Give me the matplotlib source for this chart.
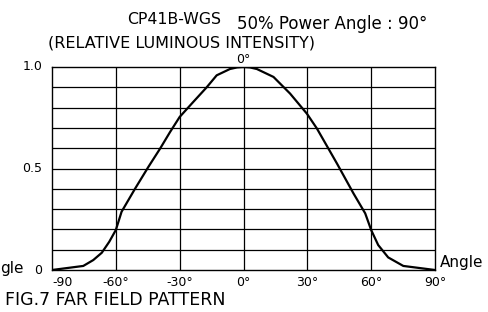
import matplotlib.pyplot as plt

# far field pattern
angles = [-90, -75.3, -70.6, -66.6, -63.1, -60, -57.3, -51, -44.7, -39.2, -34.5, -30,
          -23.6, -17.3, -12.6, -6.4, -3, 0,
          3, 6.3, 14.1, 21.9, 29.8, 34.5, 43.9, 51.7, 57.2, 60, 63.3, 68, 75.1, 90]
intensity = [0.0, 0.02, 0.049, 0.085, 0.139, 0.197, 0.287, 0.40, 0.508, 0.598, 0.68, 0.754,
             0.828, 0.90, 0.959, 0.99, 0.998, 1.0,
             0.998, 0.99, 0.951, 0.869, 0.77, 0.697, 0.525, 0.377, 0.279, 0.197, 0.123, 0.062, 0.02, 0.0]

x_ticks = [-90, -60, -30, 0, 30, 60, 90]
x_labels = ['-90', '-60°', '-30°', '0°', '30°', '60°', '90°']
y_ticks = [0, 0.5, 1.0]
y_labels = ['0', '0.5', '1.0']

plt.rcParams['font.family'] = 'DejaVu Sans'

fig = plt.figure(figsize=(4.88, 3.12), dpi=100)
ax = fig.add_axes([52 / 488, 1 - 270 / 312, 383 / 488, 203 / 312])

# grid: every 30 deg and every 0.1
for gx in range(-60, 90, 30):
    ax.axvline(gx, color='black', lw=0.9, zorder=1)
for i in range(1, 10):
    ax.axhline(i / 10, color='black', lw=0.9, zorder=1)

ax.plot(angles, intensity, color='black', lw=1.6, zorder=3, solid_joinstyle='round')

ax.set_xlim(-90, 90)
ax.set_ylim(0, 1.0)
for s in ax.spines.values():
    s.set_linewidth(1.0)
ax.set_xticks([])
ax.set_yticks([])

# tick labels as plain text
for v, lab in zip(x_ticks, x_labels):
    ha = 'left' if v == -90 else 'center'
    ax.text(v, -0.03, lab, ha=ha, va='top', fontsize=9)
for v, lab in zip(y_ticks, y_labels):
    ax.text(-94.5, v, lab, ha='right', va='center', fontsize=9)
ax.text(0, 1.005, '0°', ha='center', va='bottom', fontsize=9)

fig.text(174 / 488, 1 - 19 / 312, 'CP41B-WGS', ha='center', va='center', fontsize=11.3)
fig.text(237 / 488, 1 - 24 / 312, '50% Power Angle : 90°', ha='left', va='center', fontsize=12)
fig.text(48 / 488, 1 - 43 / 312, '(RELATIVE LUMINOUS INTENSITY)', ha='left', va='center', fontsize=11.5)
fig.text(440 / 488, 1 - 262 / 312, 'Angle', ha='left', va='center', fontsize=11)
fig.text(0, 1 - 268 / 312, 'gle', ha='left', va='center', fontsize=11)
fig.text(5 / 488, 1 - 300 / 312, 'FIG.7 FAR FIELD PATTERN', ha='left', va='center', fontsize=12.5)

fig.savefig('out.png', dpi=100)
